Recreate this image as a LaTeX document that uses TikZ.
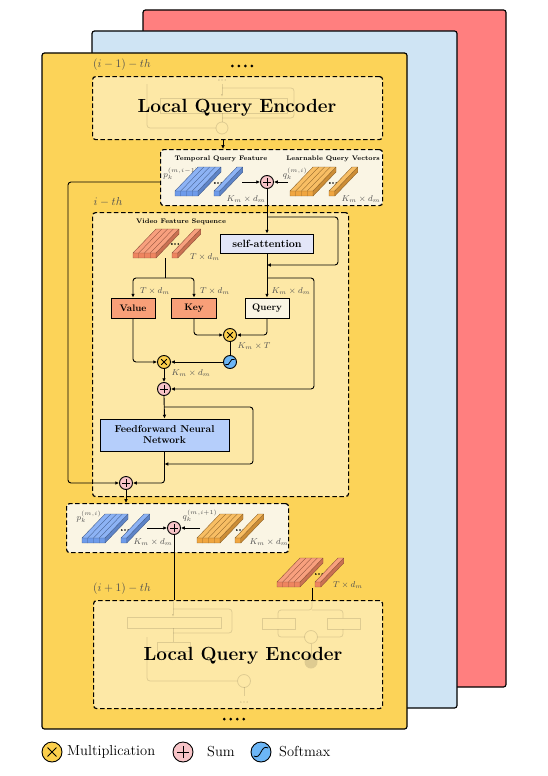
\RequirePackage{fix-cm}
\documentclass[tikz,border=0pt]{standalone}
\usetikzlibrary{arrows.meta,calc}
\definecolor{cred}{HTML}{FF7F7F}
\definecolor{cblue}{HTML}{CFE4F4}
\definecolor{cyel}{HTML}{FCD358}
\definecolor{clq}{HTML}{FDE8A6}
\definecolor{ccream}{HTML}{FAF5E4}
\definecolor{cval}{HTML}{F89F78}
\definecolor{csa}{HTML}{E3E6F8}
\definecolor{cffn}{HTML}{B5CEFB}
\definecolor{cmul}{HTML}{FCCF4C}
\definecolor{csum}{HTML}{F8C4C8}
\definecolor{csoft}{HTML}{6CB6F6}
\definecolor{sblue}{HTML}{8DB3F5}
\definecolor{sblueD}{HTML}{6E9BEA}
\definecolor{sor}{HTML}{F8BE64}
\definecolor{sorD}{HTML}{F0A640}
\definecolor{ssal}{HTML}{F8A07E}
\definecolor{ssalD}{HTML}{EE8560}
\definecolor{clabel}{HTML}{505050}

\newcommand{\myslab}[5]{%
  \pgfmathsetmacro{\slw}{#3*5.75}%
  \fill[#4] (#1,#2-5) -- ++(23,-24) -- ++(\slw,0) -- ++(-23,24) -- cycle;
  \fill[#5] (#1,#2) -- ++(0,-5) -- ++(\slw,0) -- ++(0,5) -- cycle;
  \fill[#5!85!black] (#1+\slw,#2) -- ++(0,-5) -- ++(23,-24) -- ++(0,5) -- cycle;
  \ifnum#3>1
    \foreach \k in {2,...,#3} {\draw[#5!60!black, line width=0.35pt] (#1+\k*5.75-5.75,#2) -- ++(0,-5) -- ++(23,-24);}
  \fi
  \draw[#5!60!black, line width=0.4pt, line join=round] (#1,#2) -- ++(0,-5) -- ++(23,-24) -- ++(\slw,0) -- ++(0,5) -- ++(-23,24) -- cycle (#1,#2-5) -- ++(\slw,0) -- ++(23,-24) (#1+\slw,#2) -- ++(0,-5);
}
\newcommand{\mydots}[2]{\fill (#1-3.2,#2) circle (0.95pt) (#1,#2) circle (0.95pt) (#1+3.2,#2) circle (0.95pt);}
\newcommand{\fourdots}[2]{\fill (#1-9.75,#2) circle (1.5pt) (#1-3.25,#2) circle (1.5pt) (#1+3.25,#2) circle (1.5pt) (#1+9.75,#2) circle (1.5pt);}

\tikzset{
  sheet/.style={draw, line width=1.2pt, rounded corners=2.5pt},
  dbox/.style={draw, line width=1.2pt, dash pattern=on 4.5pt off 2.6pt, rounded corners=3pt, inner sep=0pt, anchor=north west},
  arr/.style={line width=0.9pt, -{Latex[length=3.8pt,width=3.6pt]}, rounded corners=3pt},
  ln/.style={line width=0.9pt, rounded corners=3pt},
  lbl/.style={text=clabel, font=\fontsize{8.5}{10}\selectfont, inner sep=0pt},
  ttl/.style={font=\bfseries\fontsize{6.6}{8}\selectfont, inner sep=0pt},
  opbox/.style={draw, line width=0.9pt, font=\bfseries\fontsize{9.5}{11}\selectfont, inner sep=0pt},
  op/.style={circle, draw, line width=0.9pt, inner sep=0pt},
  sumop/.style={op, fill=csum, minimum size=#1,
    path picture={\draw[line width=1pt] ([xshift=-0.3*#1]path picture bounding box.center) -- ([xshift=0.3*#1]path picture bounding box.center) ([yshift=-0.3*#1]path picture bounding box.center) -- ([yshift=0.3*#1]path picture bounding box.center);}},
  sumop/.default=13pt,
  mulop/.style={op, fill=cmul, minimum size=#1,
    path picture={\draw[line width=1pt] ([shift={(-0.22*#1,-0.22*#1)}]path picture bounding box.center) -- ([shift={(0.22*#1,0.22*#1)}]path picture bounding box.center) ([shift={(-0.22*#1,0.22*#1)}]path picture bounding box.center) -- ([shift={(0.22*#1,-0.22*#1)}]path picture bounding box.center);}},
  mulop/.default=13pt,
  softop/.style={op, fill=csoft, minimum size=#1,
    path picture={\draw[line width=0.8pt] ([shift={(-0.36*#1,-0.2*#1)}]path picture bounding box.center) .. controls ([shift={(0.02*#1,-0.42*#1)}]path picture bounding box.center) and ([shift={(-0.02*#1,0.42*#1)}]path picture bounding box.center) .. ([shift={(0.36*#1,0.2*#1)}]path picture bounding box.center);}},
  softop/.default=13pt,
  ghost/.style={draw=black, opacity=0.12, line width=0.8pt},
  lqe/.style={font=\bfseries\fontsize{19}{22}\selectfont, inner sep=0pt},
}

\begin{document}
\begin{tikzpicture}[x=1pt,y=-1pt]
\useasboundingbox (0,0) rectangle (548,776);

% stacked sheets
\draw[sheet, fill=cred] (143,10) rectangle (506,687);
\draw[sheet, fill=cblue] (92,31) rectangle (457,708);
\draw[sheet, fill=cyel] (42,53) rectangle (407,729);

% ---------- top (i-1)-th encoder ----------
\node[lbl, font=\fontsize{11.5}{13}\selectfont] (lblPrev) at (122,65) {$(i-1)-th$};
\fourdots{242}{66}
\node[dbox, fill=clq, minimum width=290pt, minimum height=63pt] (lqeTop) at (92,76) {};
\begin{scope}[ghost]
  \mydots{222}{80}
  \draw[-{Latex[length=3pt]}] (222,84) -- (222,97);
  \draw (160,98) rectangle (287,113);
  \draw[rounded corners=3pt] (222,88) -| (294,118) -- (222,118);
  \draw (222,113) -- (222,122);
  \draw[rounded corners=3pt] (147,84) |- (216,128);
  \draw (222,128) circle (6pt);
\end{scope}
\node[lqe] (lqeTopTxt) at (237,108) {Local Query Encoder};

% ---------- temporal / learnable query box ----------
\node[dbox, fill=ccream, minimum width=222pt, minimum height=56pt] (tqf) at (160,149) {};
\node[ttl] (tTqf) at (221,159) {Temporal Query Feature};
\node[ttl] (tLqv) at (333,159) {Learnable Query Vectors};
\node[lbl] (lP1) at (181,174) {$p_k^{(m,i-1)}$};
\myslab{175}{196}{4}{sblue}{sblueD}
\mydots{218}{183}
\myslab{214}{196}{1}{sblue}{sblueD}
\node[lbl] (lKd1) at (246,199) {$K_m\times d_m$};
\node[lbl] (lQ1) at (295,174) {$q_k^{(m,i)}$};
\myslab{290}{196}{4}{sor}{sorD}
\mydots{333}{183}
\myslab{329}{196}{1}{sor}{sorD}
\node[lbl] (lKd2) at (361,199) {$K_m\times d_m$};
\node[sumop] (sum1) at (267,182) {};

% ---------- i-th block ----------
\node[lbl, font=\fontsize{11.5}{13}\selectfont] (lblCur) at (108,202) {$i-th$};
\node[dbox, fill=clq, minimum width=256pt, minimum height=284pt] (ith) at (92,212) {};
\node[ttl] (tVfs) at (181,222) {Video Feature Sequence};
\myslab{133}{258}{4}{ssal}{ssalD}
\mydots{175}{244}
\myslab{172}{258}{1}{ssal}{ssalD}
\node[lbl] (lTd0) at (205,257) {$T\times d_m$};

\node[opbox, fill=csa, minimum width=93pt, minimum height=19pt, font=\bfseries\fontsize{10.5}{12}\selectfont] (sa) at (267,243.5) {self-attention};
\node[opbox, fill=cval, minimum width=44pt, minimum height=20pt] (value) at (133,308) {Value};
\node[opbox, fill=cval, minimum width=45pt, minimum height=20pt] (key) at (194,308) {Key};
\node[opbox, fill=ccream, minimum width=44pt, minimum height=20pt] (query) at (267,308) {Query};
\node[lbl] (lTd1) at (155,291) {$T\times d_m$};
\node[lbl] (lTd2) at (215,291) {$T\times d_m$};
\node[lbl] (lKd3) at (291,291) {$K_m\times d_m$};
\node[mulop] (mul1) at (230,335) {};
\node[lbl] (lKT) at (254,346) {$K_m\times T$};
\node[softop] (soft) at (230,362) {};
\node[mulop] (mul2) at (164,362) {};
\node[lbl] (lKd4) at (191,373) {$K_m\times d_m$};
\node[sumop] (sum2) at (164,389) {};
\node[opbox, fill=cffn, minimum width=129pt, minimum height=32pt, align=center, font=\bfseries\fontsize{10}{11}\selectfont] (ffn) at (164.5,435) {Feedforward Neural\\Network};
\node[sumop] (sum3) at (126,483) {};

% ---------- bottom query box ----------
\node[dbox, fill=ccream, minimum width=222pt, minimum height=49pt] (bq) at (66,503) {};
\node[lbl] (lP2) at (89,517) {$p_k^{(m,i)}$};
\myslab{82}{543}{4}{sblue}{sblueD}
\mydots{125}{530}
\myslab{121}{543}{1}{sblue}{sblueD}
\node[lbl] (lKd5) at (153,542) {$K_m\times d_m$};
\node[lbl] (lQ2) at (200,516) {$q_k^{(m,i+1)}$};
\myslab{197}{543}{4}{sor}{sorD}
\mydots{240}{530}
\myslab{235}{543}{1}{sor}{sorD}
\node[lbl] (lKd6) at (269,542) {$K_m\times d_m$};
\node[sumop] (sum4) at (174,528) {};

% ---------- bottom (i+1)-th encoder ----------
\node[lbl, font=\fontsize{11.5}{13}\selectfont] (lblNext) at (122,589) {$(i+1)-th$};
\myslab{277}{587}{4}{ssal}{ssalD}
\mydots{319}{574}
\myslab{315}{587}{1}{ssal}{ssalD}
\node[lbl] (lTd3) at (348,585) {$T\times d_m$};
\node[dbox, fill=clq, minimum width=289pt, minimum height=108pt] (lqeBot) at (93,600) {};
\begin{scope}[ghost]
  \draw[-{Latex[length=3pt]}] (173,602) -- (173,617);
  \draw (127,617) rectangle (221,628);
  \draw[rounded corners=3pt] (173,609) -| (232,633) -- (173,633);
  \draw (173,628) -- (173,642);
  \draw (157,642) rectangle (190,651);
  \draw[rounded corners=3pt] (147,637) |- (237,681);
  \draw (244,681) circle (6.5pt);
  \draw (244,687) -- (244,696);
  \mydots{244}{702}
  \draw[rounded corners=3pt] (312,602) -- (312,610) -| (278,618);
  \draw[rounded corners=3pt] (312,610) -| (343,618);
  \draw (262,618) rectangle (295,629);
  \draw (327,618) rectangle (360,629);
  \draw[rounded corners=3pt] (278,629) |- (304.5,637);
  \draw[rounded corners=3pt] (343,629) |- (317.5,637);
  \draw (311,637) circle (6.5pt);
  \draw (311,643.5) -- (311,655.5);
  \fill (311,662) circle (6.5pt);
\end{scope}
\node[lqe] (lqeBotTxt) at (243,656) {Local Query Encoder};
\fourdots{234}{719}

% ---------- coordinates ----------
\coordinate (xa) at (223,0);
\coordinate (bsE) at (242,182);
\coordinate (osW) at (288,182);
\coordinate (r1s) at (267,217);
\coordinate (r1c) at (338,265);
\coordinate (qbr) at (267,278);
\coordinate (r2c) at (314,389);
\coordinate (vsrc) at (165,258);
\coordinate (vsplit) at (165,278);
\coordinate (r3s) at (164,407);
\coordinate (r3c) at (253,464);
\coordinate (loopc) at (68,483);
\coordinate (bsE2) at (147,528);
\coordinate (osW2) at (200,528);
\coordinate (vs2) at (312,588);

% ---------- connectors ----------
\draw[arr] (lqeTop.south -| xa) -- (tqf.north -| xa);
\draw[arr] (bsE) -- (sum1.west);
\draw[arr] (osW) -- (sum1.east);
\draw[arr] (sum1.south) -- (sa.north);
\draw[arr] (r1s) -| (r1c) -- (sa.south |- r1c);
\draw[arr] (sa.south) -- (query.north);
\draw[arr] (qbr) -| (r2c) -- (sum2.east);
\draw[ln] (vsrc) -- (vsplit);
\draw[arr] (vsplit) -| (value.north);
\draw[arr] (vsplit) -| (key.north);
\draw[arr] (key.south) |- (mul1.west);
\draw[arr] (query.south) |- (mul1.east);
\draw[ln] (mul1.south) -- (soft.north);
\draw[arr] (soft.west) -- (mul2.east);
\draw[arr] (value.south) |- (mul2.west);
\draw[arr] (mul2.south) -- (sum2.north);
\draw[arr] (sum2.south) -- (ffn.north);
\draw[arr] (r3s) -| (r3c) -- (ffn.south |- r3c);
\draw[arr] (ffn.south) |- (sum3.east);
\draw[arr] (tqf.west |- sum1) -| (loopc) -- (sum3.west);
\draw[arr] (sum3.south) -- (bq.north -| sum3);
\draw[arr] (bsE2) -- (sum4.west);
\draw[arr] (osW2) -- (sum4.east);
\draw[ln] (sum4.south) -- (lqeBot.north -| sum4);
\draw[ln] (vs2) -- (lqeBot.north -| vs2);

% ---------- legend ----------
\node[mulop=20pt] (legMul) at (52,752) {};
\node[anchor=west, inner sep=0pt, font=\fontsize{14.5}{16}\selectfont] (legMulT) at (67,752) {Multiplication};
\node[sumop=20pt] (legSum) at (183,752) {};
\node[anchor=west, inner sep=0pt, font=\fontsize{14.5}{16}\selectfont] (legSumT) at (207,752) {Sum};
\node[softop=20pt] (legSoft) at (261,752) {};
\node[anchor=west, inner sep=0pt, font=\fontsize{14.5}{16}\selectfont] (legSoftT) at (279,752) {Softmax};
\end{tikzpicture}
\end{document}
